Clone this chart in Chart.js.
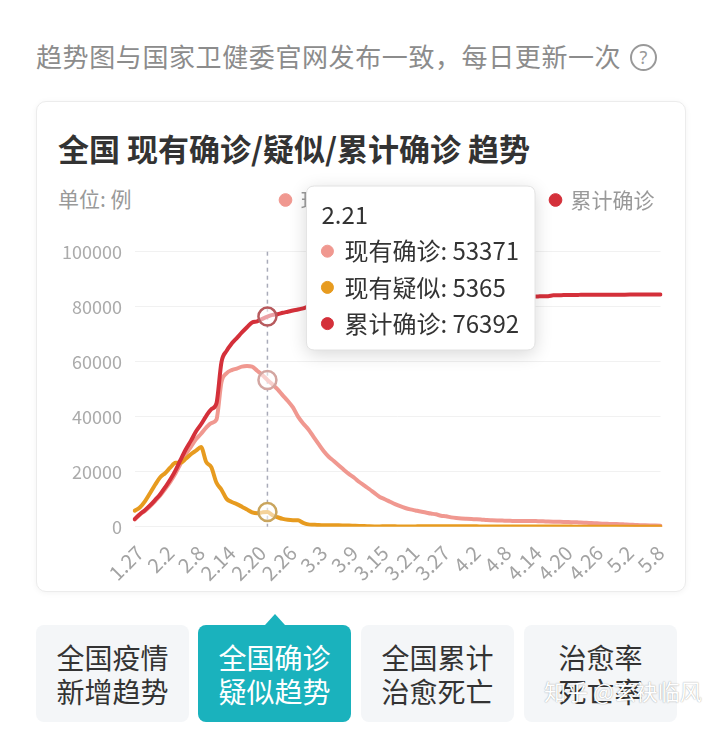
<!DOCTYPE html>
<html>
<head>
<meta charset="utf-8">
<script src="https://cdn.jsdelivr.net/npm/chart.js@4/dist/chart.umd.min.js"></script>
<style>
html,body{margin:0;padding:0;background:#fff;}
body{width:720px;height:752px;position:relative;overflow:hidden;font-family:"Noto Sans CJK SC","Noto Sans",sans-serif;}
.hdr{position:absolute;left:36px;top:36px;font-size:26px;line-height:40px;color:#8c8c8c;white-space:nowrap;letter-spacing:0.6px;}
.q{position:absolute;left:630px;top:44px;width:23px;height:23px;border:2px solid #999;border-radius:50%;color:#999;font-size:18px;line-height:23px;text-align:center;font-family:"Noto Sans",sans-serif;}
.card{position:absolute;left:36px;top:101px;width:648px;height:489px;border:1px solid #ececec;border-radius:10px;box-shadow:0 1px 6px rgba(0,0,0,0.05);background:#fff;}
.title{position:absolute;left:58px;top:128px;font-size:31px;line-height:40px;font-weight:bold;color:#333;white-space:nowrap;}
.unit{position:absolute;left:58px;top:183px;font-size:21px;line-height:30px;color:#999;white-space:nowrap;}
#wrap{position:absolute;left:36px;top:158px;width:650px;height:434px;}
.btn{position:absolute;top:625px;width:153px;height:97px;border-radius:8px;background:#f4f6f8;color:#333;font-size:28px;line-height:34px;text-align:center;display:flex;align-items:center;justify-content:center;}
.btn.on{background:#1ab2bd;color:#fff;}
.tri{position:absolute;left:265px;top:614px;width:0;height:0;border-left:10px solid transparent;border-right:10px solid transparent;border-bottom:11px solid #1ab2bd;}
.wm{position:absolute;left:544px;top:675px;font-size:22px;line-height:30px;color:#fff;text-shadow:0 0 1px rgba(0,0,0,0.3),0 0 2px rgba(0,0,0,0.15);white-space:nowrap;}
</style>
</head>
<body>
<div class="hdr">趋势图与国家卫健委官网发布一致，每日更新一次</div>
<div class="q">?</div>
<div class="card"></div>
<div class="title">全国 现有确诊/疑似/累计确诊 趋势</div>
<div class="unit">单位: 例</div>
<div id="wrap"><canvas id="c" width="650" height="434"></canvas></div>
<div class="btn" style="left:36px">全国疫情<br>新增趋势</div>
<div class="tri"></div>
<div class="btn on" style="left:198px">全国确诊<br>疑似趋势</div>
<div class="btn" style="left:361px">全国累计<br>治愈死亡</div>
<div class="btn" style="left:524px">治愈率<br>死亡率</div>
<div class="wm">知乎 @玄袂临风</div>
<script>
const dates = [
 '1.26','1.27','1.28','1.29','1.30','1.31',
 '2.1','2.2','2.3','2.4','2.5','2.6','2.7','2.8','2.9','2.10','2.11','2.12','2.13','2.14','2.15','2.16','2.17','2.18','2.19','2.20','2.21','2.22','2.23','2.24','2.25','2.26','2.27','2.28','2.29',
 '3.1','3.2','3.3','3.4','3.5','3.6','3.7','3.8','3.9','3.10','3.11','3.12','3.13','3.14','3.15','3.16','3.17','3.18','3.19','3.20','3.21','3.22','3.23','3.24','3.25','3.26','3.27','3.28','3.29','3.30','3.31',
 '4.1','4.2','4.3','4.4','4.5','4.6','4.7','4.8','4.9','4.10','4.11','4.12','4.13','4.14','4.15','4.16','4.17','4.18','4.19','4.20','4.21','4.22','4.23','4.24','4.25','4.26','4.27','4.28','4.29','4.30',
 '5.1','5.2','5.3','5.4','5.5','5.6','5.7','5.8'
];
const tickLabels = ['1.27','2.2','2.8','2.14','2.20','2.26','3.3','3.9','3.15','3.21','3.27','4.2','4.8','4.14','4.20','4.26','5.2','5.8'];
const yTicks = [0,20000,40000,60000,80000,100000];
const seriesNames = ['现有确诊','现有疑似','累计确诊'];
const currentConfirmed = [
 2630,4370,5762,7442,9336,11319,
 13779,16402,19414,22981,26344,29034,31825,33790,36045,37694,38875,52602,55827,56955,57500,58219,58406,58198,56700,55164,53371,51696,49916,47767,45700,43357,40020,37517,35435,
 32747,30100,27530,25450,23880,22270,20630,19110,17810,16240,14930,13620,12190,10830,10000,9100,8200,7440,6800,6300,5910,5520,5170,4780,4500,4000,3790,3400,3150,2980,2870,
 2780,2700,2560,2400,2330,2270,2220,2180,2110,2060,2090,2090,2080,2000,1950,1880,1830,1790,1750,1670,1640,1560,1480,1360,1290,1150,1050,1020,960,920,
 820,720,650,570,510,460,420,390
];
const currentSuspected = [
 5794,6973,9239,12167,15238,17988,
 19544,21558,23214,23260,24702,26359,27657,28942,23589,21675,16067,13435,10109,8969,8228,7264,6242,5248,4922,5206,5365,4148,3434,2824,2491,2358,2308,1418,851,
 715,587,520,522,482,502,458,421,349,285,253,147,115,113,134,128,119,105,104,106,118,136,132,134,159,189,184,174,168,183,172,
 153,136,88,76,83,88,85,83,88,86,72,72,66,62,60,57,45,42,34,31,25,23,25,11,10,10,9,9,10,10,
 9,6,4,3,3,3,3,3
];
const totalConfirmed = [
 2761,4537,5999,7738,9720,11821,
 14411,17238,20473,24363,28060,31211,34598,37251,40235,42708,44730,59882,63932,66576,68586,70636,72528,74280,74675,75567,76392,77046,77266,77776,78188,78627,78958,79391,79970,
 80178,80305,80426,80569,80717,80819,80865,80907,80928,80955,80975,81000,81019,81049,81077,81121,81159,81232,81317,81398,81480,81583,81731,81844,81975,82100,82212,82319,82400,82503,82614,
 82709,82802,82859,82929,83005,83070,83162,83249,83307,83368,83482,83600,83696,83746,83796,83825,84154,84189,84215,84238,84284,84300,84311,84325,84337,84342,84348,84370,84374,84388,
 84390,84394,84398,84400,84405,84410,84412,84416
];
const activeDate = '2.21';

const FONT = '"Noto Sans CJK SC","Noto Sans",sans-serif';
const PINK = '#f09890', ORANGE = '#e79b1f', RED = '#d4303a';
const LEGEND_H = 93.7, X_H = 65.3, Y_W = 98.7, R_W = 25.5;

Chart.Tooltip.positioners.besideRight = function(items) {
  if (!items.length) return false;
  return { x: items[0].element.x + 47, y: 28 };
};

const legendFit = { id:'legendFit', beforeInit(chart){ const lg = chart.legend; const f = lg.fit; lg.fit = function(){ f.call(this); this.height = LEGEND_H; }; } };
const crosshair = { id:'crosshair', beforeDatasetsDraw(chart){
  const a = chart.getActiveElements(); if (!a.length) return;
  const x = a[0].element.x, ca = chart.chartArea, c = chart.ctx;
  c.save(); c.setLineDash([4,4]); c.strokeStyle = '#a9abb9'; c.lineWidth = 1.5;
  c.beginPath(); c.moveTo(x, ca.top); c.lineTo(x, ca.bottom); c.stroke(); c.restore();
}};
const ttShadow = { id:'ttShadow', beforeTooltipDraw(chart, args){
  const t = args.tooltip, c = chart.ctx;
  c.save(); c.shadowColor = 'rgba(0,0,0,0.16)'; c.shadowBlur = 18; c.shadowOffsetY = 4; c.fillStyle = '#fff';
  c.beginPath(); c.roundRect(t.x, t.y, t.width, t.height, 8); c.fill(); c.restore();
}};

const chart = new Chart(document.getElementById('c'), {
  type: 'line',
  data: {
    labels: dates,
    datasets: [
      { label: seriesNames[0], data: currentConfirmed, borderColor: PINK, backgroundColor: PINK, order: 2, pointHoverBorderColor: '#d3a6a1' },
      { label: seriesNames[1], data: currentSuspected, borderColor: ORANGE, backgroundColor: ORANGE, order: 1, pointHoverBorderColor: '#c9a55e' },
      { label: seriesNames[2], data: totalConfirmed, borderColor: RED, backgroundColor: RED, order: 0, pointHoverBorderColor: '#b75a5d' }
    ]
  },
  options: {
    responsive: false, animation: false, events: [],
    layout: { padding: 0 },
    elements: {
      line: { borderWidth: 4, cubicInterpolationMode: 'monotone', borderCapStyle: 'round', borderJoinStyle: 'round' },
      point: { radius: 0, hoverRadius: 9, hoverBorderWidth: 2.5, hoverBackgroundColor: 'rgba(255,255,255,0.55)' }
    },
    plugins: {
      legend: { position: 'top', align: 'end',
        labels: { usePointStyle: true, pointStyle: 'circle', boxWidth: 9, boxHeight: 9, padding: 31.5, color: '#999', font: { size: 21, family: FONT },
          sort: (a, b) => a.datasetIndex - b.datasetIndex } },
      tooltip: {
        position: 'besideRight', xAlign: 'left', yAlign: 'top', caretSize: 0, caretPadding: 0, cornerRadius: 8,
        backgroundColor: '#fff', borderColor: '#e2e2e2', borderWidth: 1,
        titleColor: '#333', bodyColor: '#333',
        titleFont: { size: 24, weight: 'normal', family: FONT }, bodyFont: { size: 24, family: FONT },
        padding: { top: 14, bottom: 12, left: 15, right: 16 }, titleMarginBottom: 8, bodySpacing: 7.4,
        usePointStyle: true, boxWidth: 12, boxHeight: 12, boxPadding: 9,
        mode: 'index', intersect: false,
        itemSort: (a, b) => a.datasetIndex - b.datasetIndex,
        callbacks: {
          label: c => c.dataset.label + ': ' + c.raw,
          labelColor: c => ({ borderColor: c.dataset.borderColor, backgroundColor: c.dataset.borderColor }),
          labelPointStyle: () => ({ pointStyle: 'circle', rotation: 0 })
        }
      }
    },
    scales: {
      x: { type: 'category', offset: false, grid: { display: false }, border: { display: false },
        ticks: { autoSkip: false, maxRotation: 45, minRotation: 45, padding: 6, color: '#a3a3a3', font: { size: 20, family: FONT },
          callback: function(v) { const l = this.getLabelForValue(v); return tickLabels.includes(l) ? l : ''; } },
        afterFit(s) { s.height = X_H; } },
      y: { min: 0, max: 100000,
        ticks: { stepSize: 20000, color: '#ababab', padding: 12.7, font: { size: 18, family: FONT },
          callback: v => yTicks.includes(v) ? String(v) : '' },
        grid: { color: '#f1f1f1', drawTicks: false, lineWidth: 1 }, border: { display: false },
        afterFit(s) { s.width = Y_W; } },
      yR: { position: 'right', display: true, grid: { display: false }, border: { display: false }, ticks: { display: false },
        afterFit(s) { s.width = R_W; } }
    }
  },
  plugins: [legendFit, crosshair, ttShadow]
});

const idx = dates.indexOf(activeDate);
const active = [0, 1, 2].map(d => ({ datasetIndex: d, index: idx }));
chart.setActiveElements(active);
const el = chart.getDatasetMeta(0).data[idx];
chart.tooltip.setActiveElements(active, { x: el.x, y: el.y });
chart.update();
</script>
</body>
</html>
